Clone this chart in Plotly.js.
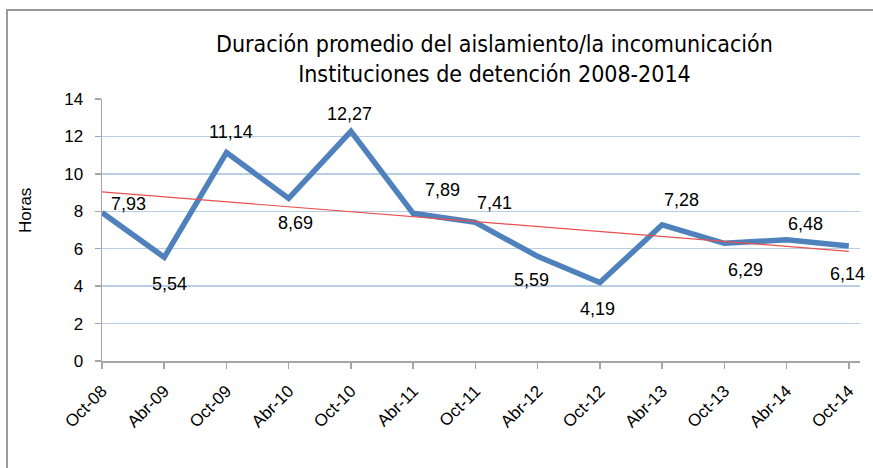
<!DOCTYPE html>
<html>
<head>
<meta charset="utf-8">
<script src="https://cdn.plot.ly/plotly-3.0.1.min.js"></script>
<style>
  html, body { margin: 0; padding: 0; background: #fff; overflow: hidden; }
  #chart { position: absolute; left: 0; top: 0; width: 873px; height: 468px; }
  #frame { position: absolute; left: 6px; top: 9px; width: 900px; height: 500px;
           border: 2px solid #9a9a9a; pointer-events: none; box-sizing: border-box; }
</style>
</head>
<body>
<div id="chart"></div>
<div id="frame"></div>
<script>
// ---- data ----
var categories = ["Oct-08","Abr-09","Oct-09","Abr-10","Oct-10","Abr-11","Oct-11","Abr-12","Oct-12","Abr-13","Oct-13","Abr-14","Oct-14"];
var horas = [7.93, 5.54, 11.14, 8.69, 12.27, 7.89, 7.41, 5.59, 4.19, 7.28, 6.29, 6.48, 6.14];
var yTicks = [0, 2, 4, 6, 8, 10, 12, 14];
var titleLines = ["Duración promedio del aislamiento/la incomunicación", "Instituciones de detención 2008-2014"];

// ---- label placement (pixels, style only) ----
var labelDx = [26, 5, 5, 7, -1, 29, 19, -6, -2, 19, 21, 19, -1];
var labelDy = [9, -27, 21, -25, 17, 23, 19, -24, -26, 25, -27, 16, -28];

// linear trend line (least squares, as Excel computes it)
var n = horas.length;
var xs = horas.map(function(_, i){ return i; });
var mx = xs.reduce(function(a,b){return a+b;},0)/n;
var my = horas.reduce(function(a,b){return a+b;},0)/n;
var sxy = 0, sxx = 0;
for (var i = 0; i < n; i++) { sxy += (xs[i]-mx)*(horas[i]-my); sxx += (xs[i]-mx)*(xs[i]-mx); }
var slope = sxy/sxx, icpt = my - slope*mx;
var trendX = [0, n-1];
var trendY = trendX.map(function(x){ return icpt + slope*x; });

var fmt = function(v){ return v.toFixed(2).replace('.', ','); };
var textFont = "Liberation Sans, Arial, sans-serif";

var annotations = horas.map(function(v, i){
  return { x: i, y: v, xref: 'x', yref: 'y', text: fmt(v), showarrow: false,
           xshift: labelDx[i], yshift: labelDy[i],
           font: { family: textFont, size: 18, color: '#000' } };
});
annotations.push({
  xref: 'paper', yref: 'paper', x: (25-102)/758, y: (361-211)/262, text: 'Horas',
  xanchor: 'center', yanchor: 'middle',
  textangle: -90, showarrow: false, font: { family: textFont, size: 17, color: '#000' }
});

var data = [
  { x: xs, y: horas, type: 'scatter', mode: 'lines',
    line: { color: '#4F81BD', width: 5.5 }, hoverinfo: 'none', cliponaxis: false },
  { x: trendX, y: trendY, type: 'scatter', mode: 'lines',
    line: { color: '#E8504F', width: 1.2 }, hoverinfo: 'none' }
];

var layout = {
  width: 873, height: 468,
  margin: { l: 102, r: 13, t: 99, b: 107 },
  paper_bgcolor: '#fff', plot_bgcolor: '#fff',
  showlegend: false,
  title: {
    text: titleLines.join('<br>'),
    x: 452/873, xanchor: 'center', xref: 'paper',
    y: 1 - 52/468, yanchor: 'top',
    font: { family: "Liberation Sans Narrow, DejaVu Sans Condensed, Arial Narrow, sans-serif", size: 23, color: '#000' }
  },
  xaxis: {
    type: 'linear', range: [0, 12.18],
    tickmode: 'array', tickvals: xs, ticktext: categories,
    tickangle: -45, ticks: 'outside', ticklen: 6, tickcolor: '#a6a6a6', tickwidth: 1.5,
    ticklabelstandoff: 6,
    showline: true, linecolor: '#a6a6a6', linewidth: 1.5,
    showgrid: false, zeroline: false,
    tickfont: { family: textFont, size: 17, color: '#000' }
  },
  yaxis: {
    range: [0, 14], tickmode: 'array', tickvals: yTicks,
    ticks: 'outside', ticklen: 6, tickcolor: '#a6a6a6', tickwidth: 1.5,
    ticklabelstandoff: 8,
    showline: true, linecolor: '#a6a6a6', linewidth: 1.5,
    showgrid: true, gridcolor: '#b9cde5', gridwidth: 1.3, zeroline: false,
    tickfont: { family: textFont, size: 17, color: '#000' }
  },
  annotations: annotations
};

Plotly.newPlot('chart', data, layout, { staticPlot: true, displayModeBar: false });
</script>
</body>
</html>
